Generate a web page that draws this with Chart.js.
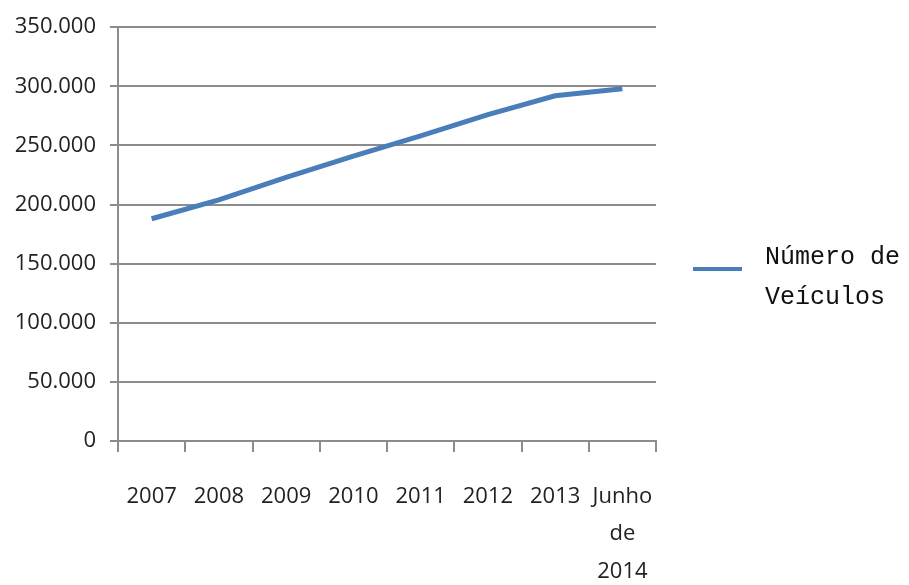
<!DOCTYPE html>
<html>
<head>
<meta charset="utf-8">
<script src="https://cdn.jsdelivr.net/npm/chart.js@4/dist/chart.umd.min.js"></script>
<style>
  html, body { margin: 0; padding: 0; background: #fff; }
  #wrap { position: relative; width: 909px; height: 585px; }
  #legend { position: absolute; left: 693px; top: 238px; font-family: "Liberation Mono", monospace; font-size: 25px; color: #111; }
  #legend .swatch { position: absolute; left: 0; top: 29px; width: 49px; height: 4px; background: #4a7ebb; }
  #legend .txt { position: absolute; left: 72px; top: 0; line-height: 40px; white-space: nowrap; }
</style>
</head>
<body>
<div id="wrap">
  <canvas id="chart" width="909" height="585"></canvas>
  <div id="legend"><span class="swatch"></span><div class="txt">Número de<br>Veículos</div></div>
</div>
<script>
const anos = ['2007', '2008', '2009', '2010', '2011', '2012', '2013', ['Junho', 'de', '2014']];
const veiculos = [188000, 204000, 223000, 241000, 258000, 276000, 292000, 298000];
const serieNome = 'Número de Veículos';

const ctx = document.getElementById('chart').getContext('2d');

const fmt = (v) => v.toString().replace(/\B(?=(\d{3})+(?!\d))/g, '.');

new Chart(ctx, {
  type: 'line',
  data: {
    labels: anos,
    datasets: [
      {
        label: serieNome,
        data: veiculos,
        borderColor: '#4a7ebb',
        borderWidth: 5,
        pointRadius: 0,
        tension: 0,
        borderCapStyle: 'butt',
      },
    ],
  },
  options: {
    responsive: false,
    animation: false,
    layout: { padding: { top: 27, right: 253, left: 0, bottom: 0 } },
    plugins: {
      legend: { display: false },
      tooltip: { enabled: false },
    },
    scales: {
      x: {
        offset: true,
        grid: {
          offset: true,
          drawOnChartArea: false,
          drawTicks: true,
          tickLength: 11,
          color: '#8c8c8c',
          lineWidth: 2,
        },
        border: { color: '#8c8c8c', width: 2 },
        ticks: {
          maxRotation: 0,
          autoSkip: false,
          padding: 26,
          color: '#222',
          font: { family: 'Open Sans', size: 22, weight: 500, lineHeight: 1.7 },
        },
        afterFit: (s) => { s.height = 144; },
      },
      y: {
        min: 0,
        max: 350000,
        ticks: {
          stepSize: 50000,
          padding: 14,
          color: '#222',
          font: { family: 'Open Sans', size: 22, weight: 500 },
          callback: (v) => fmt(v),
        },
        grid: { color: '#8c8c8c', lineWidth: 2, tickLength: 8 },
        border: { color: '#8c8c8c', width: 2 },
        afterFit: (s) => { s.width = 118; },
      },
    },
  },
});
</script>
</body>
</html>
